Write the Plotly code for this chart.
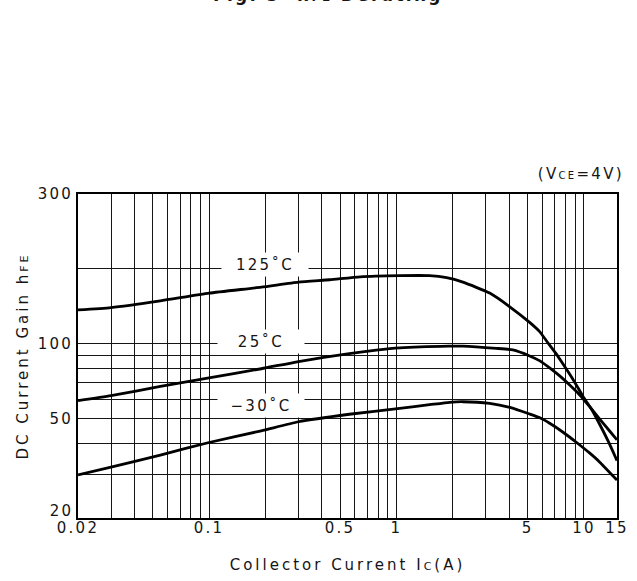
import numpy as np
import plotly.graph_objects as go

# ---- data ----
ic_125 = [0.02, 0.03, 0.055, 0.1, 0.19, 0.3, 0.44, 0.64, 1.04, 1.5, 1.85, 2.26, 3.14, 4.02,
          5.13, 5.8, 6.3, 7.13, 7.73, 8.74, 9.9, 10.95, 12.1, 13.5, 15]
hfe_125 = [137, 140, 149, 160, 169, 177, 181, 186, 188, 188, 184.5, 177, 160, 141,
           122, 112, 103, 91, 83, 72, 61.4, 54.8, 47.7, 40.5, 34]

ic_25 = [0.02, 0.03, 0.055, 0.1, 0.19, 0.3, 0.56, 0.78, 1.04, 1.9, 2.26, 3.4, 4.17,
         5.13, 5.82, 6.56, 7.42, 8.39, 9.49, 10.7, 12.1, 13.7, 15]
hfe_25 = [59.2, 62, 67.5, 73, 79.5, 85, 91.5, 94.5, 96.5, 98, 98, 96, 94.6,
          89.5, 85.5, 80.1, 74.4, 68.4, 62.4, 56.1, 50, 44.7, 41.2]

ic_m30 = [0.02, 0.03, 0.055, 0.1, 0.19, 0.3, 0.56, 1.04, 1.5, 1.92, 2.26, 3.14, 4.02,
          5.13, 5.82, 6.56, 7.7, 9.13, 10.7, 12.1, 15]
hfe_m30 = [29.8, 32, 35.8, 40.2, 44.8, 48.7, 52.2, 55.1, 57, 58.3, 58.6, 57.7, 55.6,
           52.3, 50.5, 48, 44.3, 40.2, 36.5, 33.6, 28.4]

series_names = ["125˚C", "25˚C", "−30˚C"]
label_ic = [0.2, 0.19, 0.19]
label_hfe = [208, 102, 56.5]

x_grid = [0.02, 0.03, 0.04, 0.05, 0.06, 0.07, 0.08, 0.09,
          0.1, 0.2, 0.3, 0.4, 0.5, 0.6, 0.7, 0.8, 0.9,
          1, 2, 3, 4, 5, 6, 7, 8, 9, 10, 15]
x_labels = {0.02: "0.02", 0.1: "0.1", 0.5: "0.5", 1: "1", 5: "5", 10: "10", 15: "15"}
y_grid = [20, 30, 40, 50, 60, 70, 80, 90, 100, 200, 400]
y_labels = {50: "50", 100: "100", 400: "300"}
y_bottom_label = "20"

x_range = [0.02, 15]
y_range = [20, 400]

FONT = "DejaVu Sans"
INK = "#151515"

fig = go.Figure()
for xs, ys, nm in [(ic_125, hfe_125, series_names[0]),
                   (ic_25, hfe_25, series_names[1]),
                   (ic_m30, hfe_m30, series_names[2])]:
    fig.add_trace(go.Scatter(x=xs, y=ys, mode="lines", name=nm,
                             line=dict(color="black", width=2.8, shape="spline", smoothing=0.5),
                             showlegend=False, hoverinfo="skip"))

# temperature labels with white boxes masking the grid
for nm, lx, ly in zip(series_names, label_ic, label_hfe):
    fig.add_annotation(x=np.log10(lx), y=np.log10(ly), xref="x", yref="y",
                       text=nm, showarrow=False, bgcolor="white",
                       width=86, height=23, borderpad=0,
                       font=dict(family=FONT, size=15, color=INK))

# bottom y tick label, sitting a little above the corner as in the reference
fig.add_annotation(x=0, y=np.log10(y_range[0]), xref="paper", yref="y",
                   xanchor="right", yanchor="middle", xshift=-5, yshift=7,
                   text=y_bottom_label, showarrow=False,
                   font=dict(family=FONT, size=15, color=INK))

# condition note
fig.add_annotation(x=1.0, y=1.062, xref="paper", yref="paper", xanchor="right", yanchor="middle",
                   text='(V<span style="font-size:10px">CE</span>=4V)', showarrow=False,
                   font=dict(family=FONT, size=15, color=INK))

# figure caption, mostly cut off at the top edge of the picture
fig.add_annotation(x=0.464, y=1.577, xref="paper", yref="paper", xanchor="center", yanchor="bottom",
                   text="<b>Fig. 5  h<span style=\"font-size:12px\">FE</span> Derating</b>",
                   showarrow=False, font=dict(family=FONT, size=17, color=INK))

axis_common = dict(showline=True, linecolor="black", linewidth=1.6, mirror=True,
                   showgrid=True, gridcolor=INK, gridwidth=1.3, zeroline=False,
                   ticks="", tickfont=dict(family=FONT, size=15, color=INK))

fig.update_xaxes(type="log", range=[np.log10(x_range[0]), np.log10(x_range[1])],
                 tickmode="array", tickvals=x_grid,
                 ticktext=[x_labels.get(v, "") for v in x_grid],
                 ticklabelstandoff=-5,
                 title=dict(text='Collector Current I<span style="font-size:11px">C</span>(A)',
                            font=dict(family=FONT, size=15, color=INK), standoff=24),
                 **axis_common)
fig.update_yaxes(type="log", range=[np.log10(y_range[0]), np.log10(y_range[1])],
                 tickmode="array", tickvals=y_grid,
                 ticktext=[y_labels.get(v, "") for v in y_grid],
                 title=dict(text='DC Current Gain h<span style="font-size:11px">FE</span>',
                            font=dict(family=FONT, size=15, color=INK), standoff=12),
                 **axis_common)

fig.update_layout(width=637, height=581,
                  margin=dict(l=78, r=20, t=194, b=63, autoexpand=False),
                  paper_bgcolor="white", plot_bgcolor="white",
                  font=dict(family=FONT, color=INK))

post = """
document.documentElement.style.margin = '0';
document.body.style.margin = '0';
document.body.style.overflow = 'hidden';
var gd = document.getElementById('{plot_id}');
gd.querySelectorAll('text').forEach(function(t){ t.style.letterSpacing = '2.3px'; });
gd.querySelectorAll('.xtitle, .ytitle').forEach(function(t){ t.style.letterSpacing = '3px'; });
"""
fig.write_html("out.html", post_script=post, config={"displayModeBar": False})
